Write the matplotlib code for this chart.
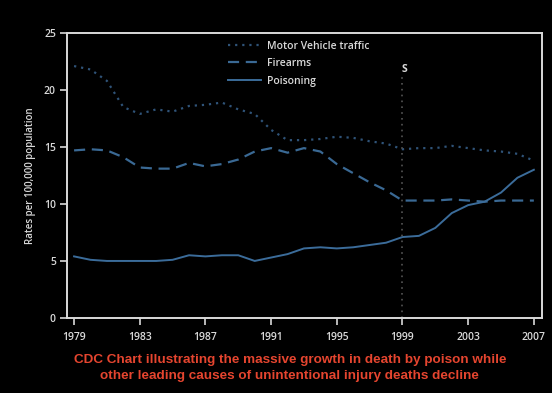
#!/usr/bin/env python3
"""
CDC chart: unintentional injury death rates by cause, 1979-2007.
"""
import numpy as np
import matplotlib
matplotlib.use("Agg")
import matplotlib.pyplot as plt

years = list(range(1979, 2008))

motor_vehicle = [22.1, 21.8, 20.8, 18.5, 17.9, 18.3, 18.1, 18.6, 18.7, 18.9,
                 18.3, 17.9, 16.5, 15.6, 15.6, 15.7, 15.9, 15.8, 15.5, 15.3,
                 14.8, 14.9, 14.9, 15.1, 14.9, 14.7, 14.6, 14.4, 13.8]
firearms = [14.7, 14.8, 14.7, 14.1, 13.2, 13.1, 13.1, 13.6, 13.3, 13.5,
            13.9, 14.6, 14.9, 14.5, 14.9, 14.6, 13.5, 12.7, 11.9, 11.2,
            10.3, 10.3, 10.3, 10.4, 10.3, 10.2, 10.3, 10.3, 10.3]
poisoning = [5.4, 5.1, 5.0, 5.0, 5.0, 5.0, 5.1, 5.5, 5.4, 5.5,
             5.5, 5.0, 5.3, 5.6, 6.1, 6.2, 6.1, 6.2, 6.4, 6.6,
             7.1, 7.2, 7.9, 9.2, 9.9, 10.2, 11.0, 12.3, 13.0]

xtick_labels = [1979, 1983, 1987, 1991, 1995, 1999, 2003, 2007]
yticks = [0, 5, 10, 15, 20, 25]
series_names = ["Motor Vehicle traffic", "Firearms", "Poisoning"]

fg = "#d9d9d9"
plt.rcParams["font.family"] = ["Open Sans", "DejaVu Sans"]

fig = plt.figure(figsize=(5.52, 3.93), dpi=100, facecolor="black")
ax = fig.add_axes([0.1214, 0.191, 0.8606, 0.725], facecolor="black")

ax.plot(years, motor_vehicle, color="#2f5378", lw=1.6, ls=(0, (1, 2.2)),
        label=series_names[0])
ax.plot(years, firearms, color="#3a6994", lw=1.6, ls=(0, (5, 3)),
        label=series_names[1])
ax.plot(years, poisoning, color="#3b6c9a", lw=1.4, label=series_names[2])

# ICD change marker at 1999
ax.plot([1999, 1999], [0, 21.1], color="#555555", lw=1.2, ls=(0, (1, 2.5)))
ax.text(1999.1, 21.8, "S", color=fg, fontsize=7.5, fontweight="bold",
        ha="center", va="center")

ax.set_xlim(1978.57, 2007.5)
ax.set_ylim(0, 25)
ax.set_yticks(yticks)
ax.set_xticks(xtick_labels)
ax.set_xticks(years, minor=True)

for s in ax.spines.values():
    s.set_color(fg)
    s.set_linewidth(1.4)

ax.tick_params(axis="both", colors=fg, labelsize=7.5, width=1.2)
ax.tick_params(axis="y", length=5, pad=3)
ax.tick_params(axis="x", which="both", length=5, pad=5, direction="out")
for lab in ax.get_xticklabels() + ax.get_yticklabels():
    lab.set_fontweight("semibold")

ax.set_ylabel("Rates per 100,000 population", color=fg, fontsize=7,
              fontweight="semibold", labelpad=6)

leg = ax.legend(loc="upper left", bbox_to_anchor=(0.325, 0.995), frameon=False,
                fontsize=7.5, handlelength=3.2, handletextpad=0.6,
                labelspacing=0.62, borderaxespad=0.2)
for t in leg.get_texts():
    t.set_color(fg)
    t.set_fontweight("semibold")

fig.text(0.525, 0.063,
         "CDC Chart illustrating the massive growth in death by poison while\n"
         "other leading causes of unintentional injury deaths decline",
         color="#e5452f", fontsize=9.7, fontweight="bold", ha="center",
         va="center", family=["Liberation Sans", "DejaVu Sans"],
         linespacing=1.45)

fig.savefig("out.png", dpi=100, facecolor="black")
